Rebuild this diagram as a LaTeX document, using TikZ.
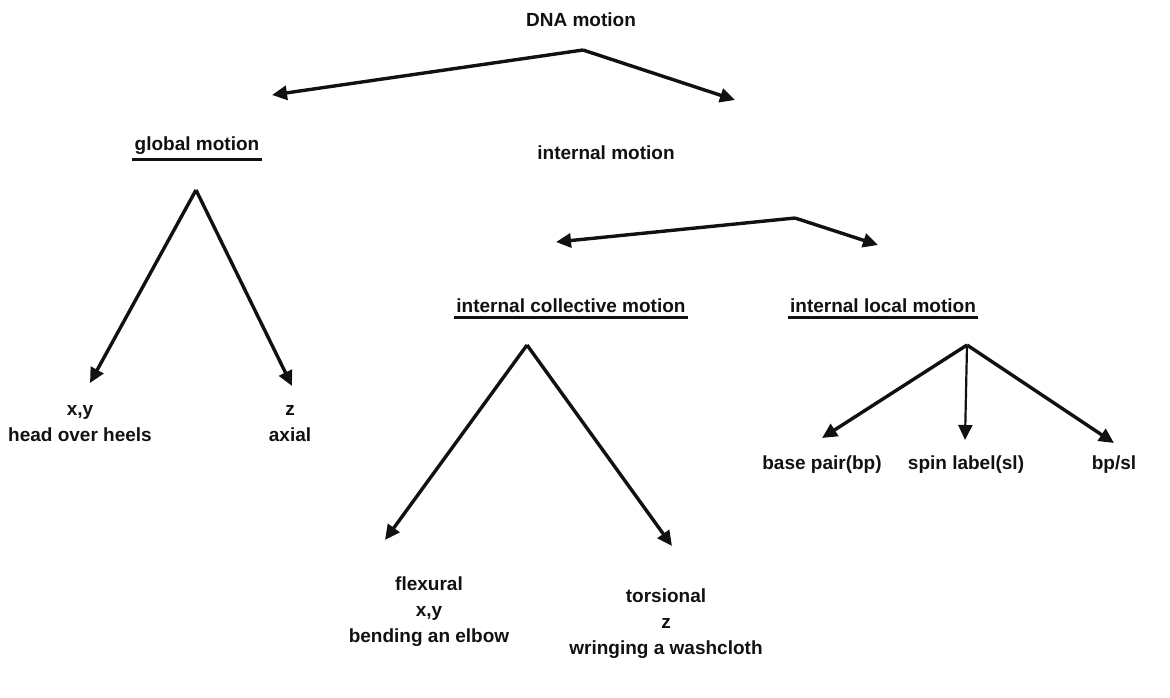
\documentclass[tikz,border=0pt]{standalone}
\usepackage{fontspec}
\setmainfont{Liberation Sans}
\usetikzlibrary{positioning,arrows.meta}
\definecolor{ink}{HTML}{111111}

\begin{document}
\begin{tikzpicture}[x=0.5pt,y=-0.5pt,
    lbl/.style={text=ink,font=\fontsize{9.5}{13}\selectfont\bfseries,align=center,inner sep=1pt},
    arr/.style={draw=ink,line width=1.7pt,line join=round,-{Triangle[length=7.5pt,width=7pt]}},
    ul/.style={draw=ink,line width=1.3pt}]
  \useasboundingbox (0,0) rectangle (1170,697);
  \node[lbl] (dna) at (581,20){DNA motion};
  \node[lbl] (glob) at (197,146){global motion};
  \node[lbl] (intm) at (606,153){internal motion};
  \node[lbl] (gxy) at (80,424){x,y\\head over heels};
  \node[lbl] (gz) at (290,424){z\\axial};
  \node[lbl] (coll) at (571,306){internal collective motion};
  \node[lbl] (locl) at (883,306){internal local motion};
  \node[lbl] (flex) at (429,612){flexural\\x,y\\bending an elbow};
  \node[lbl] (tors) at (666,624){torsional\\z\\wringing a washcloth};
  \node[lbl] (bp) at (822,465){base pair(bp)};
  \node[lbl] (sl) at (966,465){spin label(sl)};
  \node[lbl] (bpsl) at (1114,465){bp/sl};
  \draw[ul] ([yshift=-1pt]glob.south west) -- ([yshift=-1pt]glob.south east);
  \draw[ul] ([yshift=-1pt]coll.south west) -- ([yshift=-1pt]coll.south east);
  \draw[ul] ([yshift=-1pt]locl.south west) -- ([yshift=-1pt]locl.south east);
  \coordinate (dnaTop) at (583,50);
  \coordinate (globIn) at (272,95);
  \coordinate (intmIn) at (735,100);
  \coordinate (globTop) at (196,190);
  \coordinate (gxyIn) at (90,383);
  \coordinate (gzIn) at (292,386);
  \coordinate (intmTop) at (795,218);
  \coordinate (collIn) at (556,242);
  \coordinate (loclIn) at (878,245);
  \coordinate (collTop) at (527,345);
  \coordinate (flexIn) at (385,540);
  \coordinate (torsIn) at (672,546);
  \coordinate (loclTop) at (967,345);
  \coordinate (bpIn) at (822,438);
  \coordinate (slIn) at (965,440);
  \coordinate (bpslIn) at (1114,443);
  \draw[arr] (dnaTop) -- (globIn);
  \draw[arr] (dnaTop) -- (intmIn);
  \draw[arr] (globTop) -- (gxyIn);
  \draw[arr] (globTop) -- (gzIn);
  \draw[arr] (intmTop) -- (collIn);
  \draw[arr] (intmTop) -- (loclIn);
  \draw[arr] (collTop) -- (flexIn);
  \draw[arr] (collTop) -- (torsIn);
  \draw[arr] (loclTop) -- (bpIn);
  \draw[arr,line width=1.1pt] (loclTop) -- (slIn);
  \draw[arr] (loclTop) -- (bpslIn);
\end{tikzpicture}
\end{document}
